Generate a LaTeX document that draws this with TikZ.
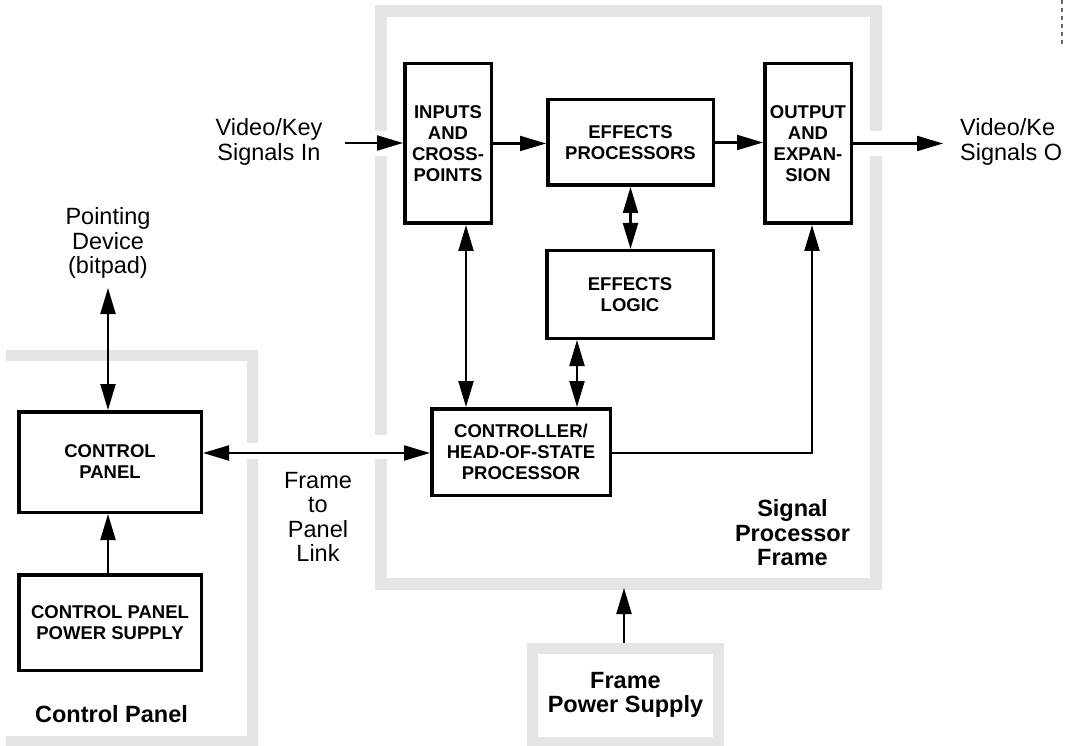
\documentclass[tikz,border=0pt]{standalone}
\usepackage{fontspec}
\setmainfont{Liberation Sans}
\usetikzlibrary{arrows.meta,calc}
\definecolor{framegray}{RGB}{229,229,229}
\begin{document}
\begin{tikzpicture}[x=1pt,y=-1pt,
  band/.style={draw=framegray,line width=12pt,line join=miter},
  blk/.style={draw,line width=3.5pt,align=center,inner sep=0pt,
    font=\bfseries\fontsize{18.5}{21}\selectfont},
  lbl/.style={align=center,inner sep=0pt,font=\fontsize{23.5}{24.5}\selectfont},
  blbl/.style={align=center,inner sep=0pt,font=\bfseries\fontsize{23.5}{24.5}\selectfont},
  tip/.style={Triangle[length=26pt,width=15pt]},
  arr/.style={line width=2.2pt,-{Triangle[length=26pt,width=15pt]}},
  darr/.style={line width=2.2pt,{Triangle[length=26pt,width=15pt]}-{Triangle[length=26pt,width=15pt]}}]
\useasboundingbox (0,0) rectangle (1071,746);
% signal processor frame band
\draw[band] (380.5,131) -- (380.5,11) -- (876,11) -- (876,131);
\draw[band] (876,156) -- (876,584) -- (380.5,584) -- (380.5,459);
\draw[band] (380.5,435) -- (380.5,156);
% control panel band
\draw[band,line width=11pt] (6,355) -- (252.5,355) -- (252.5,443);
\draw[band,line width=11pt] (252.5,459) -- (252.5,741) -- (6,741);
% dashed fragment top right
\draw[black!60,line width=1.3pt,dash pattern=on 4pt off 4pt] (1062,0) -- (1062,44);
% blocks
\node[blk,minimum width=86.5pt,minimum height=159.5pt] (inputs) at (448,143.5) {INPUTS\\AND\\CROSS-\\POINTS};
\node[blk,minimum width=165.5pt,minimum height=85.5pt] (effects) at (630.5,142.5) {EFFECTS\\PROCESSORS};
\node[blk,minimum width=86.5pt,minimum height=159.5pt] (output) at (808,143.5) {OUTPUT\\AND\\EXPAN-\\SION};
\node[blk,minimum width=166.5pt,minimum height=87.5pt] (logic) at (630,294.5) {EFFECTS\\LOGIC};
\node[blk,minimum width=178.5pt,minimum height=86.5pt] (ctrl) at (521,452) {CONTROLLER/\\HEAD-OF-STATE\\PROCESSOR};
\node[blk,minimum width=182.5pt,minimum height=100.5pt] (cp) at (110,462) {CONTROL\\PANEL};
\node[blk,minimum width=182.5pt,minimum height=95.5pt] (cpps) at (110,622.5) {CONTROL PANEL\\POWER SUPPLY};
\node[draw=framegray,line width=11pt,minimum width=186pt,minimum height=94pt,blbl] (fps) at (625.5,695) {Frame\\Power Supply};
% labels
\node[lbl] (vin) at (269,142) {Video/Key\\Signals In};
\node[lbl,align=left,anchor=west] (vout) at (960,142) {Video/Ke\\Signals O};
\node[lbl] (pd) at (108,243) {Pointing\\Device\\(bitpad)};
\node[lbl] (link) at (318,517) {Frame\\to\\Panel\\Link};
\node[blbl] (cpl) at (111.5,714) {Control Panel};
\node[blbl] (spf) at (792.5,533) {Signal\\Processor\\Frame};
% coordinates
\coordinate (vinend) at (345,143);
\coordinate (voutend) at (943,143.5);
\coordinate (ptop) at (108,288);
\coordinate (sfb) at (624,588);
% connectors
\draw[arr] (vinend) -- (vinend -| inputs.west);
\draw[arr] (inputs.east) -- (inputs.east -| effects.west);
\draw[arr] (effects.east) -- (effects.east -| output.west);
\draw[arr] (output.east) -- (voutend);
\draw[darr] (effects.south) -- (effects.south |- logic.north);
\draw[darr] ([xshift=18pt]inputs.south) -- ([xshift=18pt]inputs.south |- ctrl.north);
\draw[darr] ([xshift=-53pt]logic.south) -- ([xshift=-53pt]logic.south |- ctrl.north);
\draw[arr] ([yshift=-1pt]ctrl.east) -| ([xshift=4pt]output.south);
\draw[darr] ([yshift=-1pt]ctrl.west) -- ([yshift=-1pt]ctrl.west -| cp.east);
\draw[darr] (ptop) -- (ptop |- cp.north);
\draw[arr] ([xshift=-2pt]cpps.north) -- ([xshift=-2pt]cp.south);
\draw[arr] ([xshift=-1.5pt]fps.north) -- ([xshift=-1.5pt]fps.north |- sfb);
\end{tikzpicture}
\end{document}
